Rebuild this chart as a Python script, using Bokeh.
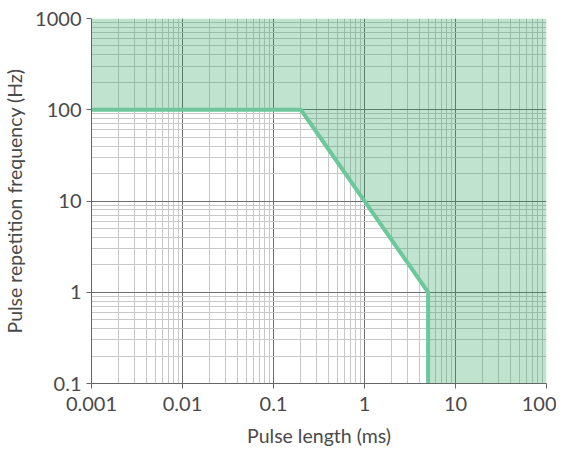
from bokeh.plotting import figure
from bokeh.models import FixedTicker, Range1d
from bokeh.embed import file_html
from bokeh.resources import INLINE

# Data
limit_x = [0.001, 0.2, 5, 5]
limit_y = [100, 100, 1, 0.1]
x_ticks = [0.001, 0.01, 0.1, 1, 10, 100]
x_labels = ["0.001", "0.01", "0.1", "1", "10", "100"]
y_ticks = [0.1, 1, 10, 100, 1000]
y_labels = ["0.1", "1", "10", "100", "1000"]

def minors(ticks):
    out = []
    for t in ticks[:-1]:
        for k in range(2, 10):
            out.append(t * k)
    return out

p = figure(frame_width=455, frame_height=365, x_axis_type="log", y_axis_type="log",
           x_range=Range1d(x_ticks[0], x_ticks[-1]), y_range=Range1d(y_ticks[0], y_ticks[-1]),
           output_backend="svg", toolbar_location=None,
           min_border_left=84, min_border_right=10, min_border_top=18, min_border_bottom=58)
p.outline_line_color = None
p.background_fill_color = "white"

# shaded region above / right of the limit line
fx = limit_x + [x_ticks[-1], x_ticks[-1], x_ticks[0]]
fy = limit_y + [y_ticks[0], y_ticks[-1], y_ticks[-1]]
p.patch(fx, fy, fill_color="#2ca25f", fill_alpha=0.3, line_color=None)
p.line(limit_x, limit_y, line_color="#6cc89b", line_width=4)

for ax, ticks, labels in ((p.xaxis[0], x_ticks, x_labels), (p.yaxis[0], y_ticks, y_labels)):
    ax.ticker = FixedTicker(ticks=ticks, minor_ticks=minors(ticks))
    ax.major_label_overrides = {t: l for t, l in zip(ticks, labels)}
    ax.axis_line_color = "#666666"
    ax.major_tick_line_color = "#666666"
    ax.major_tick_out = 5
    ax.major_tick_in = 0
    ax.minor_tick_line_color = None
    ax.major_label_text_font = "Lato"
    ax.major_label_text_font_size = "20px"
    ax.major_label_text_color = "#4a4a4a"
    ax.axis_label_text_font = "Lato"
    ax.axis_label_text_font_size = "19.5px"
    ax.axis_label_text_font_style = "normal"
    ax.axis_label_text_color = "#4a4a4a"

p.xaxis.axis_label = "Pulse length (ms)"
p.yaxis.axis_label = "Pulse repetition frequency (Hz)"
p.xaxis.major_label_standoff = 8
p.yaxis.major_label_standoff = 5
p.xaxis.axis_label_standoff = 10
p.yaxis.axis_label_standoff = 6

for g in (p.xgrid[0], p.ygrid[0]):
    g.grid_line_color = "#6e6e6e"
    g.grid_line_width = 1
    g.minor_grid_line_color = "#c8c8c8"
    g.minor_grid_line_width = 1

open("out.html", "w").write(file_html(p, INLINE))
